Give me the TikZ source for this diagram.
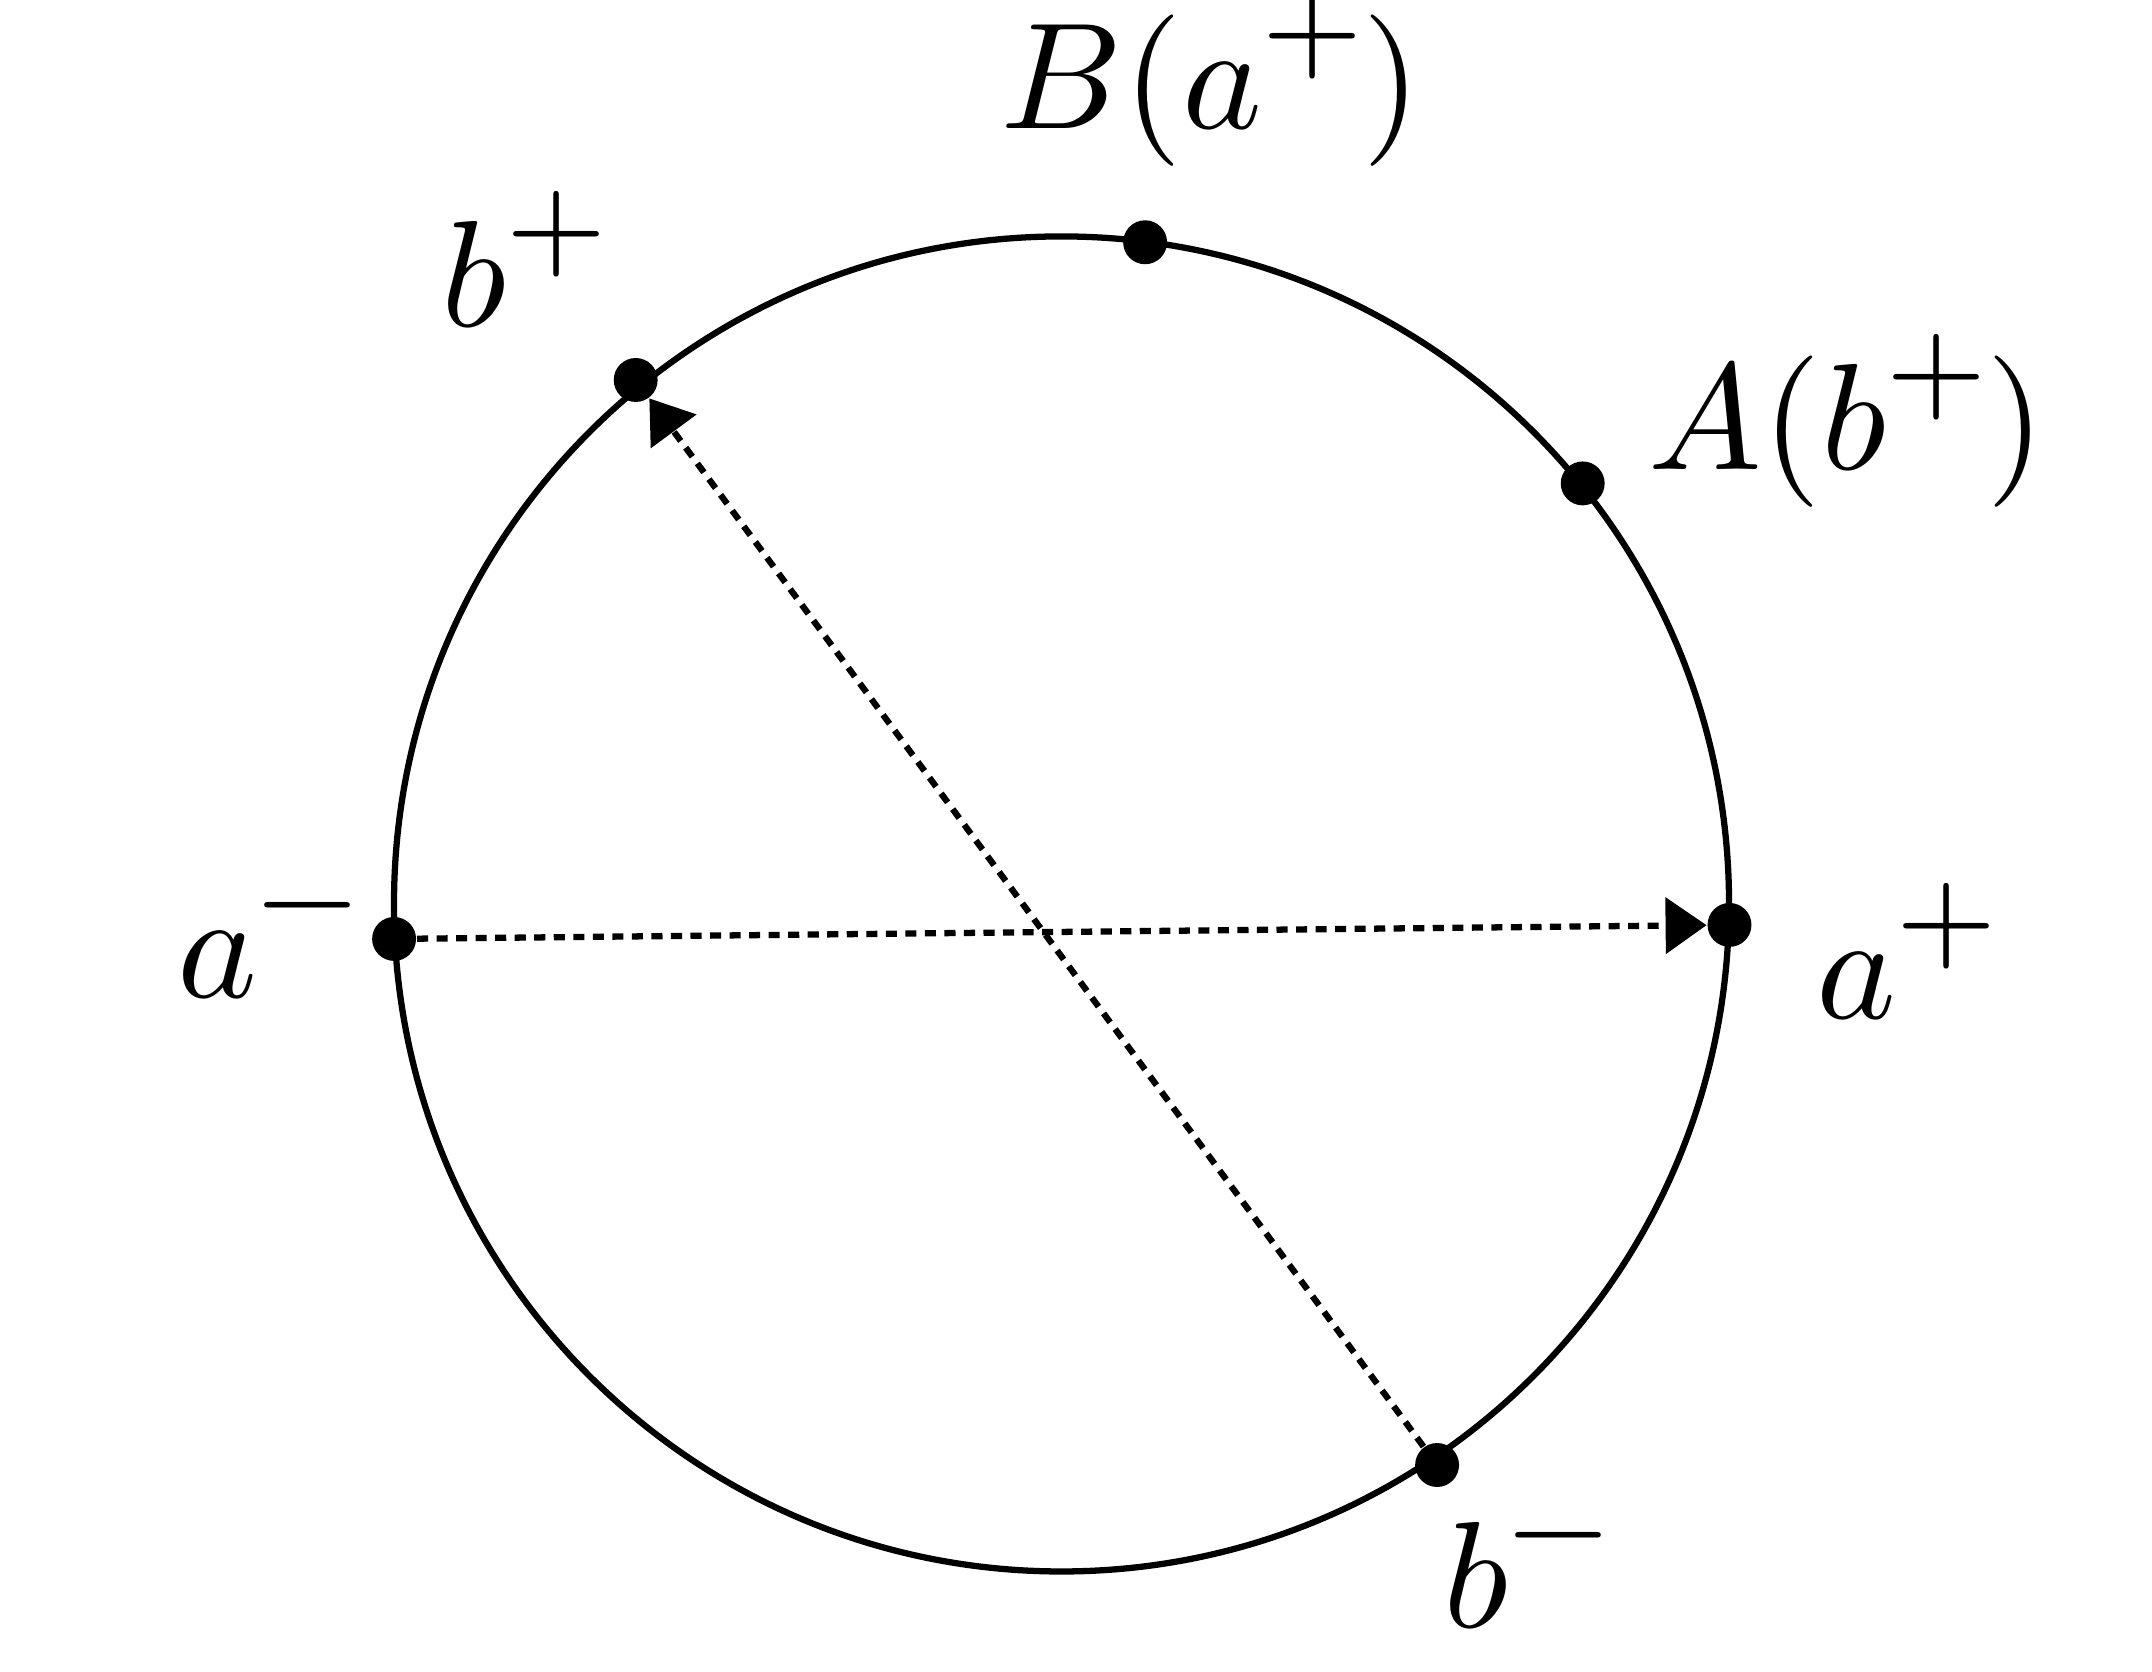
\documentclass[tikz,border=0pt]{standalone}
\usepackage{amsmath}
\usetikzlibrary{arrows.meta, positioning}
\newcommand{\upsign}[1]{\raisebox{4.1pt}{\fontsize{8}{10}\selectfont #1}}

\begin{document}
\begin{tikzpicture}[
    dot/.style={circle, fill, inner sep=0pt, minimum size=0.32cm},
    chord/.style={line width=1.3pt, dash pattern=on 2.3pt off 1.75pt, -{Triangle[length=8.5pt, width=11.5pt]}},
    lbl/.style={anchor=base, inner sep=0pt, scale=3.14, transform shape}
]
    \useasboundingbox (-7.735,-5.596) rectangle (7.946,6.587);

    % Circle
    \draw[line width=1.3pt] (0,0) circle (4.864);

    % Points on the circle
    \node[dot] (bplus) at (129.1:4.92) {};
    \node[dot] (Bofa) at (82.8:4.86) {};
    \node[dot] (Aofb) at (38.9:4.88) {};
    \node[dot] (aplus) at (-1.8:4.87) {};
    \node[dot] (aminus) at (183.0:4.87) {};
    \node[dot] (bminus) at (-56.2:4.92) {};

    % Labels
    \node[lbl] (lBofa) at (1.09,5.647) {$B(a$\upsign{+}$)$};
    \node[lbl] (lbplus) at (-3.915,4.207) {$b$\upsign{+}};
    \node[lbl] (lAofb) at (5.725,3.167) {$A(b$\upsign{+}$)$};
    \node[lbl] (laminus) at (-5.785,-0.683) {$a$\upsign{\char"2212}};
    \node[lbl] (laplus) at (6.155,-0.833) {$a$\upsign{+}};
    \node[lbl] (lbminus) at (3.385,-5.273) {$b$\upsign{\char"2212}};

    % Edges with arrows
    \draw[chord] (aminus) -- (aplus);
    \draw[chord] (bminus) -- (bplus);
\end{tikzpicture}
\end{document}
